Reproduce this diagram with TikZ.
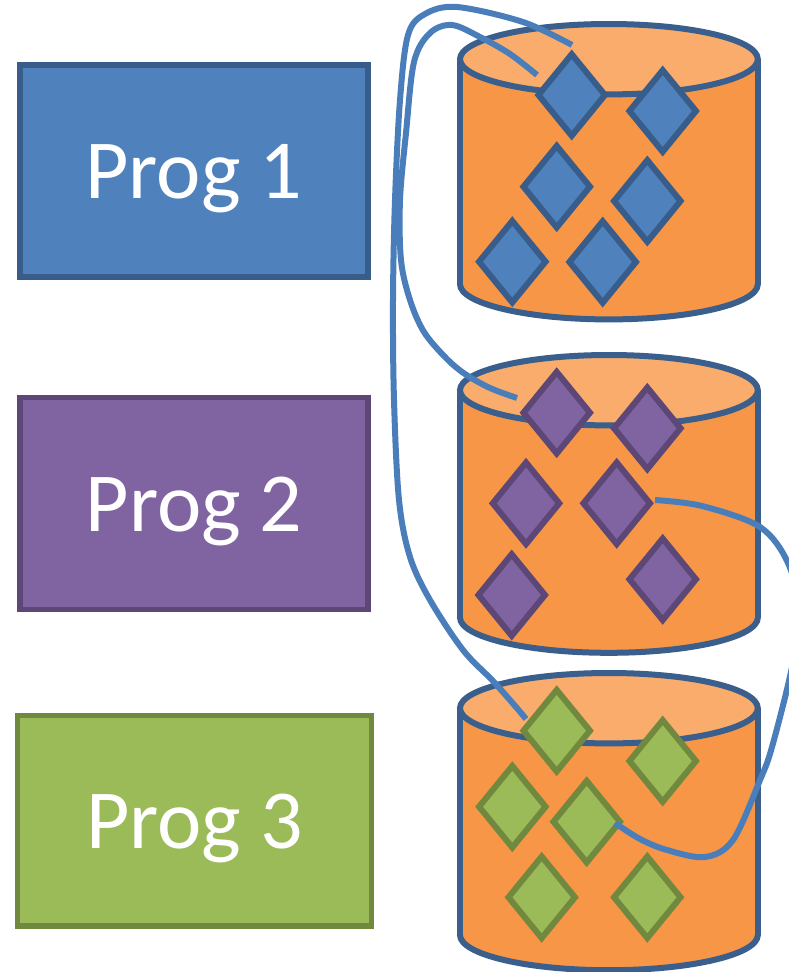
\documentclass[tikz,border=0pt]{standalone}
\usepackage{fontspec}
\setmainfont{Carlito}
\usetikzlibrary{shapes.geometric}
\definecolor{blueF}{HTML}{4F81BD}
\definecolor{blueD}{HTML}{385D8A}
\definecolor{purF}{HTML}{8064A2}
\definecolor{purD}{HTML}{5C4776}
\definecolor{grnF}{HTML}{9BBB59}
\definecolor{grnD}{HTML}{71893F}
\definecolor{canF}{HTML}{F79646}
\definecolor{canT}{HTML}{F9AC6B}
\definecolor{canD}{HTML}{3A5F8C}
\definecolor{linkC}{HTML}{4A7EBB}
\newcommand\mycan[2]{%
  \filldraw[canbody] (608.9,#2) ellipse [x radius=148.9, y radius=35.2];
  \fill[canF] (460,#1) rectangle (757.8,#2);
  \draw[canline] (460,#1) -- (460,#2) (757.8,#1) -- (757.8,#2);
  \filldraw[cantop] (608.9,#1) ellipse [x radius=148.9, y radius=35.2];
}
\begin{document}
\begin{tikzpicture}[x=1pt,y=-1pt,
  progbox/.style={rectangle, draw, line width=5.5pt, inner sep=0pt,
    minimum width=348pt, minimum height=212pt, text=white,
    font=\fontsize{84}{100}\selectfont, text height=56pt, text depth=0pt},
  canline/.style={draw=canD, line width=6pt},
  canbody/.style={canline, fill=canF},
  cantop/.style={canline, fill=canT},
  dia/.style={diamond, line width=6pt, inner sep=0pt, minimum width=69pt, minimum height=84pt},
  bdia/.style={dia, fill=blueF, draw=blueD},
  pdia/.style={dia, fill=purF, draw=purD},
  gdia/.style={dia, fill=grnF, draw=grnD},
  link/.style={draw=linkC, line width=6pt}
]
\useasboundingbox (0,0) rectangle (788,972);
\fill[white] (0,0) rectangle (788,972);

% program boxes
\node[progbox, fill=blueF, draw=blueD] (p1) at (193.9,170.9) {Prog 1};
\node[progbox, fill=purF, draw=purD] (p2) at (194,503.3) {Prog 2};
\node[progbox, fill=grnF, draw=grnD, minimum width=354pt, minimum height=210.5pt] (p3) at (194.5,820.8) {Prog 3};

% cylinder 1
\mycan{59.2}{284.2}
\node[bdia] (a1) at (571.7,95) {};
\node[bdia] (a2) at (662.7,111) {};
\node[bdia] (a3) at (556.7,186.7) {};
\node[bdia] (a4) at (647.3,201) {};
\node[bdia] (a5) at (512.3,261.7) {};
\node[bdia] (a6) at (602.7,262) {};

% cylinder 2
\mycan{390.2}{617.6}
\node[pdia] (b1) at (556.7,412.7) {};
\node[pdia] (b2) at (647.3,428.3) {};
\node[pdia] (b3) at (526,503.3) {};
\node[pdia] (b4) at (616.7,503.3) {};
\node[pdia] (b5) at (511.7,595) {};
\node[pdia] (b6) at (662.7,579.3) {};

% cylinder 3
\mycan{708.2}{935}
\node[gdia] (c1) at (556.7,730.7) {};
\node[gdia] (c2) at (662.7,761) {};
\node[gdia] (c3) at (512.3,806.7) {};
\node[gdia] (c4) at (586.7,821.7) {};
\node[gdia] (c5) at (541.7,897.3) {};
\node[gdia] (c6) at (647.3,897.3) {};

% connector end points
\coordinate (ea1) at (572,45);
\coordinate (ec1) at (526,719);
\coordinate (ea1b) at (537,75);
\coordinate (eb1) at (517,398);
\coordinate (eb4) at (655,500);
\coordinate (ec4) at (615,823);

% links
\draw[link] plot[smooth, tension=0.55] coordinates {(ea1) (523,22) (457,7) (425,14) (408,35) (400,100) (395,200) (393,300) (394,400) (399,500) (410,557) (430,600) (463,650) (493,681) (516,707) (ec1)};
\draw[link] plot[smooth, tension=0.55] coordinates {(ea1b) (510,54) (480,37) (452,25) (430,33) (414,62) (406,133) (400,200) (401,260) (410,300) (424,332) (446,358) (465,374) (490,388) (eb1)};
\draw[link] plot[smooth, tension=0.55] coordinates {(eb4) (702,506) (760,527) (788,563) (799,612) (792,667) (772,747) (760,780) (733,840) (705,857) (667,850) (640,839) (ec4)};
\end{tikzpicture}
\end{document}
